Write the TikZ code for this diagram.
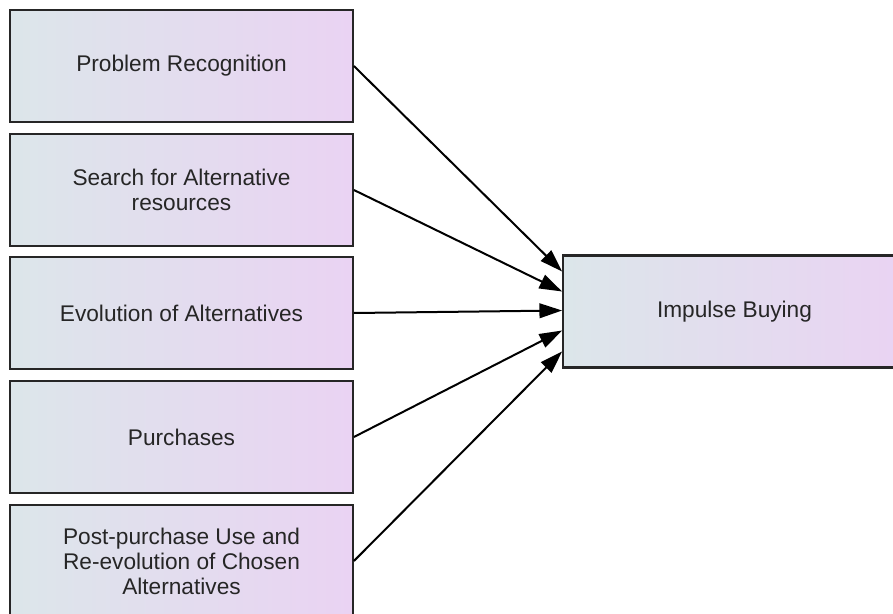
\documentclass[tikz,border=0pt]{standalone}
\usepackage{fontspec}
\setmainfont{Liberation Sans}
\usetikzlibrary{arrows.meta,calc}
\definecolor{boxleft}{HTML}{DCE6EA}
\definecolor{boxright}{HTML}{EAD3F3}
\definecolor{boxline}{HTML}{262626}
\tikzset{
  stagebox/.style={draw=boxline, line width=1.6pt, left color=boxleft, right color=boxright,
    minimum width=257pt, minimum height=84pt, inner sep=0pt, align=center,
    font=\fontsize{17pt}{18.8pt}\selectfont, text=black!85},
  conn/.style={line width=1.5pt, draw=black, -{Triangle[length=17pt,width=11pt]}}
}
\begin{document}
\begin{tikzpicture}[x=0.75pt,y=-0.75pt]
\useasboundingbox (0,0) rectangle (893,614);
\node[stagebox] (b1) at (181.5,66) {Problem Recognition};
\node[stagebox] (b2) at (181.5,190) {Search for Alternative\\resources};
\node[stagebox] (b3) at (181.5,313) {Evolution of Alternatives};
\node[stagebox] (b4) at (181.5,437) {Purchases};
\node[stagebox] (b5) at (181.5,561) {Post-purchase Use and\\Re-evolution of Chosen\\Alternatives};
\node[stagebox] (ib) at (734.5,311.5) {Impulse Buying};
\draw[conn] (b1.east) -- ($(ib.west)+(0,-40)$);
\draw[conn] (b2.east) -- ($(ib.west)+(0,-20)$);
\draw[conn] (b3.east) -- ($(ib.west)+(0,-1)$);
\draw[conn] (b4.east) -- ($(ib.west)+(0,19)$);
\draw[conn] (b5.east) -- ($(ib.west)+(0,40)$);
\end{tikzpicture}
\end{document}
